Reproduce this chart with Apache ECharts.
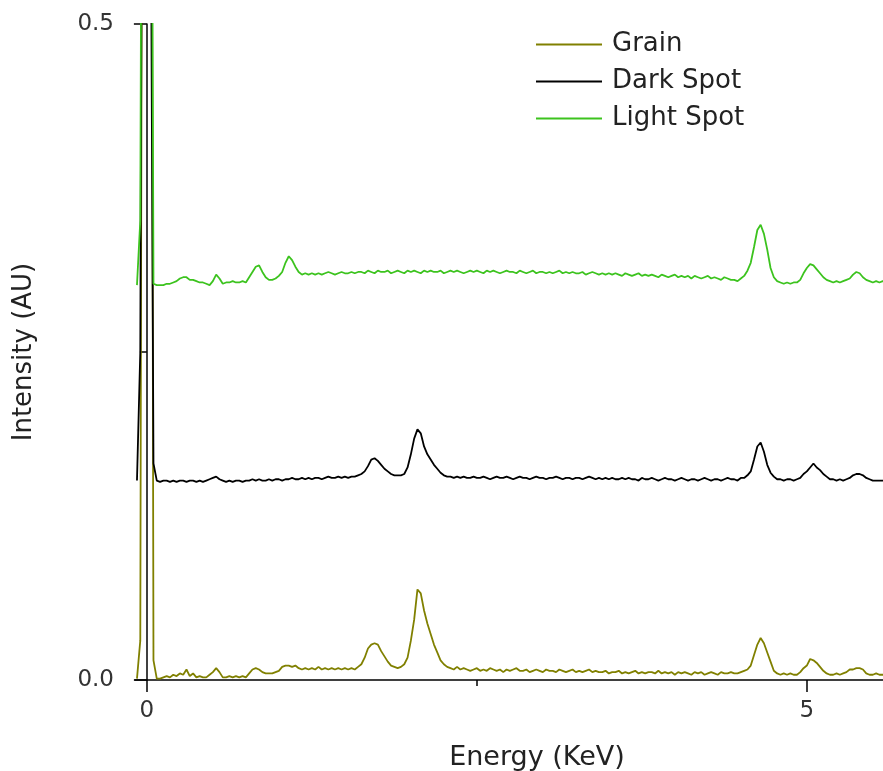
<!DOCTYPE html>
<html>
<head>
<meta charset="utf-8">
<script src="https://cdn.jsdelivr.net/npm/echarts@6/dist/echarts.min.js"></script>
<style>
  html, body { margin: 0; padding: 0; background: #ffffff; }
  #chart { width: 883px; height: 771px; }
</style>
</head>
<body>
<div id="chart"></div>
<script>
// EDS spectra sampled on a uniform energy grid (keV)
const energyStart = -0.075;
const energyStep = 0.025;

const seriesNames = ['Grain', 'Dark Spot', 'Light Spot'];
const seriesColors = ['#808000', '#000000', '#3cc31e'];

// Intensity (AU) per energy channel
const grain = [
  0.001, 0.030, 1.2, 1.5, 1.2, 0.015, 0.001, 0.001, 0.002, 0.003,
  0.002, 0.004, 0.003, 0.005, 0.004, 0.008, 0.003, 0.005, 0.002, 0.003,
  0.002, 0.002, 0.004, 0.006, 0.009, 0.006, 0.002, 0.002, 0.003, 0.002,
  0.003, 0.002, 0.003, 0.002, 0.005, 0.008, 0.009, 0.008, 0.006, 0.005,
  0.005, 0.005, 0.006, 0.007, 0.010, 0.011, 0.011, 0.010, 0.011, 0.009,
  0.008, 0.009, 0.008, 0.009, 0.008, 0.010, 0.008, 0.009, 0.008, 0.009,
  0.008, 0.009, 0.008, 0.009, 0.008, 0.009, 0.008, 0.010, 0.012, 0.017,
  0.024, 0.027, 0.028, 0.027, 0.022, 0.018, 0.014, 0.011, 0.010, 0.009,
  0.010, 0.012, 0.017, 0.030, 0.046, 0.069, 0.066, 0.053, 0.043, 0.035,
  0.027, 0.021, 0.015, 0.012, 0.010, 0.009, 0.008, 0.010, 0.008, 0.009,
  0.008, 0.007, 0.008, 0.009, 0.007, 0.008, 0.007, 0.009, 0.008, 0.007,
  0.008, 0.006, 0.008, 0.007, 0.008, 0.009, 0.007, 0.007, 0.008, 0.006,
  0.007, 0.008, 0.007, 0.006, 0.008, 0.007, 0.007, 0.006, 0.008, 0.007,
  0.006, 0.007, 0.008, 0.006, 0.007, 0.006, 0.007, 0.008, 0.006, 0.007,
  0.006, 0.006, 0.007, 0.005, 0.006, 0.006, 0.007, 0.005, 0.006, 0.005,
  0.006, 0.007, 0.005, 0.006, 0.005, 0.006, 0.006, 0.005, 0.007, 0.005,
  0.006, 0.005, 0.006, 0.004, 0.006, 0.005, 0.006, 0.005, 0.004, 0.006,
  0.005, 0.006, 0.004, 0.005, 0.006, 0.005, 0.004, 0.006, 0.005, 0.005,
  0.006, 0.005, 0.005, 0.006, 0.007, 0.008, 0.011, 0.019, 0.027, 0.032,
  0.028, 0.021, 0.014, 0.007, 0.005, 0.004, 0.005, 0.004, 0.005, 0.004,
  0.004, 0.006, 0.009, 0.011, 0.016, 0.015, 0.013, 0.010, 0.007, 0.005,
  0.004, 0.004, 0.005, 0.004, 0.005, 0.006, 0.008, 0.008, 0.009, 0.009,
  0.008, 0.005, 0.004, 0.004, 0.005, 0.004, 0.004, 0.004
];

const darkSpot = [
  0.152, 0.25, 1.0, 1.3, 0.7, 0.165, 0.152, 0.151, 0.152, 0.152,
  0.151, 0.152, 0.151, 0.152, 0.152, 0.151, 0.152, 0.152, 0.151, 0.152,
  0.151, 0.152, 0.153, 0.154, 0.155, 0.153, 0.152, 0.151, 0.152, 0.151,
  0.152, 0.152, 0.151, 0.152, 0.152, 0.153, 0.152, 0.153, 0.152, 0.152,
  0.153, 0.152, 0.153, 0.153, 0.152, 0.153, 0.153, 0.154, 0.153, 0.153,
  0.154, 0.153, 0.154, 0.153, 0.154, 0.154, 0.153, 0.154, 0.155, 0.154,
  0.154, 0.155, 0.154, 0.155, 0.154, 0.155, 0.155, 0.156, 0.157, 0.159,
  0.163, 0.168, 0.169, 0.167, 0.164, 0.161, 0.159, 0.157, 0.156, 0.156,
  0.156, 0.157, 0.162, 0.172, 0.184, 0.191, 0.188, 0.178, 0.172, 0.168,
  0.164, 0.161, 0.158, 0.156, 0.155, 0.155, 0.154, 0.155, 0.154, 0.155,
  0.154, 0.154, 0.155, 0.154, 0.154, 0.155, 0.154, 0.153, 0.154, 0.155,
  0.154, 0.154, 0.155, 0.154, 0.153, 0.154, 0.155, 0.154, 0.154, 0.153,
  0.154, 0.155, 0.154, 0.154, 0.153, 0.154, 0.154, 0.155, 0.154, 0.153,
  0.154, 0.154, 0.153, 0.154, 0.154, 0.153, 0.154, 0.155, 0.154, 0.153,
  0.154, 0.153, 0.154, 0.153, 0.154, 0.153, 0.153, 0.154, 0.153, 0.154,
  0.153, 0.153, 0.152, 0.154, 0.153, 0.153, 0.154, 0.153, 0.152, 0.153,
  0.154, 0.153, 0.153, 0.152, 0.153, 0.154, 0.153, 0.152, 0.153, 0.153,
  0.152, 0.153, 0.154, 0.153, 0.152, 0.153, 0.153, 0.152, 0.153, 0.154,
  0.153, 0.153, 0.152, 0.154, 0.154, 0.156, 0.159, 0.168, 0.178, 0.181,
  0.174, 0.164, 0.158, 0.155, 0.153, 0.153, 0.152, 0.153, 0.153, 0.152,
  0.153, 0.154, 0.157, 0.159, 0.162, 0.165, 0.162, 0.160, 0.157, 0.155,
  0.153, 0.153, 0.152, 0.153, 0.152, 0.153, 0.154, 0.156, 0.157, 0.157,
  0.156, 0.154, 0.153, 0.152, 0.152, 0.152, 0.152, 0.152
];

const lightSpot = [
  0.301, 0.35, 1.1, 1.3, 1.0, 0.302, 0.301, 0.301, 0.301, 0.302,
  0.302, 0.303, 0.304, 0.306, 0.307, 0.307, 0.305, 0.305, 0.304, 0.303,
  0.303, 0.302, 0.301, 0.304, 0.309, 0.306, 0.302, 0.303, 0.303, 0.304,
  0.303, 0.303, 0.304, 0.303, 0.307, 0.311, 0.315, 0.316, 0.311, 0.307,
  0.305, 0.305, 0.306, 0.308, 0.311, 0.318, 0.323, 0.320, 0.315, 0.311,
  0.309, 0.310, 0.309, 0.310, 0.309, 0.310, 0.309, 0.310, 0.311, 0.310,
  0.309, 0.310, 0.311, 0.310, 0.310, 0.311, 0.310, 0.311, 0.311, 0.310,
  0.312, 0.311, 0.310, 0.312, 0.311, 0.311, 0.312, 0.310, 0.311, 0.312,
  0.311, 0.310, 0.312, 0.311, 0.312, 0.311, 0.310, 0.312, 0.311, 0.312,
  0.311, 0.311, 0.312, 0.310, 0.311, 0.312, 0.311, 0.312, 0.311, 0.310,
  0.311, 0.312, 0.311, 0.312, 0.311, 0.310, 0.312, 0.311, 0.312, 0.311,
  0.310, 0.311, 0.312, 0.311, 0.311, 0.310, 0.312, 0.311, 0.310, 0.311,
  0.312, 0.310, 0.311, 0.311, 0.310, 0.311, 0.310, 0.311, 0.312, 0.310,
  0.311, 0.310, 0.311, 0.310, 0.310, 0.311, 0.309, 0.310, 0.311, 0.310,
  0.309, 0.310, 0.309, 0.310, 0.309, 0.310, 0.309, 0.308, 0.310, 0.309,
  0.308, 0.309, 0.310, 0.308, 0.309, 0.308, 0.309, 0.308, 0.307, 0.309,
  0.308, 0.307, 0.308, 0.309, 0.307, 0.308, 0.307, 0.308, 0.306, 0.308,
  0.307, 0.306, 0.307, 0.308, 0.306, 0.307, 0.306, 0.305, 0.307, 0.306,
  0.305, 0.305, 0.304, 0.306, 0.308, 0.312, 0.318, 0.330, 0.343, 0.347,
  0.340, 0.328, 0.314, 0.307, 0.304, 0.303, 0.302, 0.303, 0.302, 0.303,
  0.303, 0.305, 0.310, 0.314, 0.317, 0.316, 0.313, 0.310, 0.307, 0.305,
  0.304, 0.303, 0.304, 0.303, 0.304, 0.305, 0.306, 0.309, 0.311, 0.310,
  0.307, 0.305, 0.304, 0.303, 0.304, 0.303, 0.304, 0.303
];

// Axis range and ticks
const xMin = -0.09;
const xMax = 5.577;
const xMajorTicks = [0, 5];
const xMinorTicks = [2.5];

const spectra = [grain, darkSpot, lightSpot];
const toPairs = values => values.map((v, i) => [energyStart + i * energyStep, v]);

const labelFont = { fontFamily: 'DejaVu Sans', fontSize: 23, color: '#333' };
const titleFont = { fontFamily: 'DejaVu Sans', fontSize: 26, color: '#222' };

const chart = echarts.init(document.getElementById('chart'), null, { renderer: 'canvas' });

chart.setOption({
  animation: false,
  backgroundColor: '#ffffff',
  grid: { left: 135, top: 24, bottom: 91, right: 0, containLabel: false, outerBoundsMode: 'none' },
  legend: {
    orient: 'vertical',
    left: 536,
    top: 31,
    padding: 0,
    icon: 'rect',
    itemWidth: 66,
    itemHeight: 2,
    itemGap: 10,
    data: seriesNames,
    textStyle: { fontFamily: 'DejaVu Sans', fontSize: 26, color: '#222', padding: [0, 0, 0, 5], lineHeight: 27 }
  },
  xAxis: [
    {
      type: 'value',
      min: xMin,
      max: xMax,
      position: 'bottom',
      name: 'Energy (KeV)',
      nameLocation: 'middle',
      nameGap: 64,
      nameTextStyle: { ...titleFont, fontSize: 27, padding: [0, 0, 0, 56] },
      axisLine: { show: true, lineStyle: { color: '#000', width: 1.5 } },
      axisTick: { show: true, length: 12, customValues: xMajorTicks, lineStyle: { color: '#000', width: 1.5 } },
      axisLabel: { show: true, customValues: xMajorTicks, margin: 20, ...labelFont },
      splitLine: { show: false }
    },
    {
      type: 'value',
      min: xMin,
      max: xMax,
      position: 'bottom',
      axisLine: { show: false },
      axisTick: { show: true, length: 6, customValues: xMinorTicks, lineStyle: { color: '#000', width: 1.5 } },
      axisLabel: { show: false },
      splitLine: { show: false }
    }
  ],
  yAxis: {
    type: 'value',
    min: 0,
    max: 0.5,
    interval: 0.5,
    name: 'Intensity (AU)',
    nameLocation: 'middle',
    nameGap: 98,
    nameTextStyle: titleFont,
    axisLine: { show: true, lineStyle: { color: '#000', width: 1.5 } },
    axisTick: { show: true, length: 13, lineStyle: { color: '#000', width: 1.5 } },
    minorTick: { show: true, splitNumber: 2, length: 7, lineStyle: { color: '#000', width: 1.5 } },
    axisLabel: { margin: 21, formatter: v => v.toFixed(1), ...labelFont },
    splitLine: { show: false },
    minorSplitLine: { show: false }
  },
  series: spectra.map((values, k) => ({
    name: seriesNames[k],
    type: 'line',
    xAxisIndex: 0,
    yAxisIndex: 0,
    data: toPairs(values),
    symbol: 'none',
    clip: true,
    color: seriesColors[k],
    lineStyle: { color: seriesColors[k], width: 1.8 }
  }))
});
</script>
</body>
</html>
